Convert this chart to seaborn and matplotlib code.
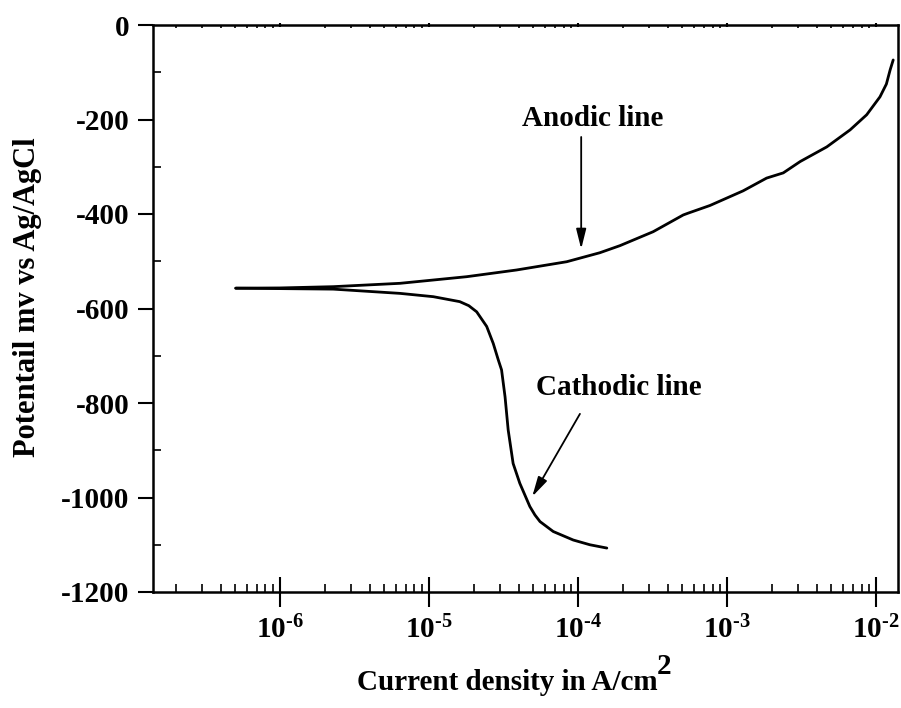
import numpy as np
import pandas as pd
import matplotlib
matplotlib.use("Agg")
import matplotlib.pyplot as plt
from matplotlib.ticker import LogLocator, FixedLocator, FuncFormatter, NullFormatter
import seaborn as sns

# Polarization data: current density (A/cm^2) and potential (mV vs Ag/AgCl)
anodic_current = [5.06e-7, 1.0e-6, 2.28e-6, 6.4e-6, 1.79e-5, 3.87e-5, 8.4e-5,
                  1.40e-4, 1.91e-4, 3.19e-4, 5.08e-4, 5.5e-4, 7.67e-4, 1.28e-3,
                  1.84e-3, 2.38e-3, 3.09e-3, 4.66e-3, 6.68e-3, 8.63e-3, 1.06e-2,
                  1.17e-2, 1.24e-2, 1.30e-2]
anodic_potential = [-557, -556.5, -553.8, -546.7, -532.7, -518.5, -501,
                    -482, -467, -437.5, -402, -398, -382, -351,
                    -324, -313, -289, -258, -222, -190, -152,
                    -125, -95, -74]

cathodic_current = [5.06e-7, 2.28e-6, 6.4e-6, 1.07e-5, 1.61e-5, 1.85e-5, 2.09e-5,
                    2.44e-5, 2.70e-5, 2.92e-5, 3.07e-5, 3.24e-5, 3.40e-5, 3.67e-5,
                    4.07e-5, 4.75e-5, 5.14e-5, 5.56e-5, 6.82e-5, 9.29e-5, 1.20e-4,
                    1.56e-4]
cathodic_potential = [-557, -559, -568, -575, -585.5, -594, -607,
                      -638, -674, -709, -730, -787, -857, -928,
                      -970, -1019, -1037, -1051, -1072, -1090, -1100,
                      -1107]

x_major_ticks = [1e-6, 1e-5, 1e-4, 1e-3, 1e-2]
y_major_ticks = [0, -200, -400, -600, -800, -1000, -1200]

sns.set_style("ticks")
plt.rcParams.update({
    "font.family": ["Liberation Serif", "DejaVu Serif"],
    "font.weight": "bold",
    "font.size": 21,
    "text.color": "black",
    "axes.labelcolor": "black",
    "xtick.color": "black",
    "ytick.color": "black",
    "axes.edgecolor": "black",
    "axes.unicode_minus": False,
    "mathtext.fontset": "custom",
    "mathtext.rm": "Liberation Serif:bold",
    "mathtext.bf": "Liberation Serif:bold",
    "mathtext.it": "Liberation Serif:bold:italic",
    "mathtext.default": "bf",
})

anodic = pd.DataFrame({"current": anodic_current, "potential": anodic_potential,
                       "branch": "Anodic"})
cathodic = pd.DataFrame({"current": cathodic_current, "potential": cathodic_potential,
                         "branch": "Cathodic"})
data = pd.concat([anodic, cathodic], ignore_index=True)

fig = plt.figure(figsize=(9.01, 7.08), dpi=100)
ax = fig.add_axes([153 / 901, 1 - 592 / 708, 745 / 901, 567 / 708])

sns.lineplot(data=data, x="current", y="potential", units="branch",
             estimator=None, sort=False, color="black", linewidth=2.0, ax=ax)

ax.set_xscale("log")
ax.set_xlim(1.41e-7, 1.40e-2)
ax.set_ylim(-1200, 0)


def decade_label(v, pos):
    exp = int(round(np.log10(v)))
    sign = "\u2010" if exp < 0 else ""
    return r"$\mathbf{10^{%s%d}}$" % (sign, abs(exp))


# Ticks: log decades along x, 200 mV steps along y
ax.xaxis.set_major_locator(FixedLocator(x_major_ticks))
ax.xaxis.set_minor_locator(LogLocator(base=10, subs=np.arange(2, 10), numticks=20))
ax.xaxis.set_minor_formatter(NullFormatter())
ax.xaxis.set_major_formatter(FuncFormatter(decade_label))
ax.yaxis.set_major_locator(FixedLocator(y_major_ticks))
ax.yaxis.set_minor_locator(FixedLocator(np.arange(-1100, 0, 200)))
ax.yaxis.set_major_formatter(FuncFormatter(lambda v, p: "%d" % v))

ax.tick_params(axis="x", which="major", direction="inout", length=22, width=1.5,
               pad=6, labelsize=21, top=True)
ax.tick_params(axis="x", which="minor", direction="in", length=6, width=1.2,
               top=True)
ax.tick_params(axis="y", which="major", direction="out", length=11, width=1.5,
               pad=6, labelsize=21)
ax.tick_params(axis="y", which="minor", direction="in", length=6, width=1.2)

for side in ["left", "right", "top", "bottom"]:
    ax.spines[side].set_visible(True)
    ax.spines[side].set_linewidth(1.8)
    ax.spines[side].set_color("black")

# Tiny inward ticks along the top edge
for t in ax.xaxis.get_major_ticks() + ax.xaxis.get_minor_ticks():
    t.tick2line.set_markersize(2.5)

for lbl in ax.get_xticklabels() + ax.get_yticklabels():
    lbl.set_fontweight("bold")

ax.set_xlabel("Current density in A/cm", fontsize=21, fontweight="bold")
ax.xaxis.set_label_coords(0.475, -0.16)
ax.xaxis.label.set_va("center")
ax.annotate("2", xy=(1.0, 0.6), xycoords=ax.xaxis.label, fontsize=21,
            fontweight="bold", ha="left", va="bottom")

ax.set_ylabel("Potentail mv vs Ag/AgCl", fontsize=22, fontweight="bold")
ax.yaxis.set_label_coords(-0.168, 0.52)
ax.yaxis.label.set_va("center")

# Branch annotations
arrow = dict(arrowstyle="-|>,head_length=0.6,head_width=0.15", color="black",
             lw=1.3, shrinkA=0, shrinkB=0, mutation_scale=20)
ax.text(1.25e-4, -197, "Anodic line", ha="center", va="center",
        fontsize=21, fontweight="bold")
ax.annotate("", xy=(1.05e-4, -474), xytext=(1.05e-4, -237), arrowprops=arrow)
ax.text(1.88e-4, -768, "Cathodic line", ha="center", va="center",
        fontsize=21, fontweight="bold")
ax.annotate("", xy=(4.93e-5, -998), xytext=(1.03e-4, -823), arrowprops=arrow)

fig.savefig("out.png", dpi=100)
